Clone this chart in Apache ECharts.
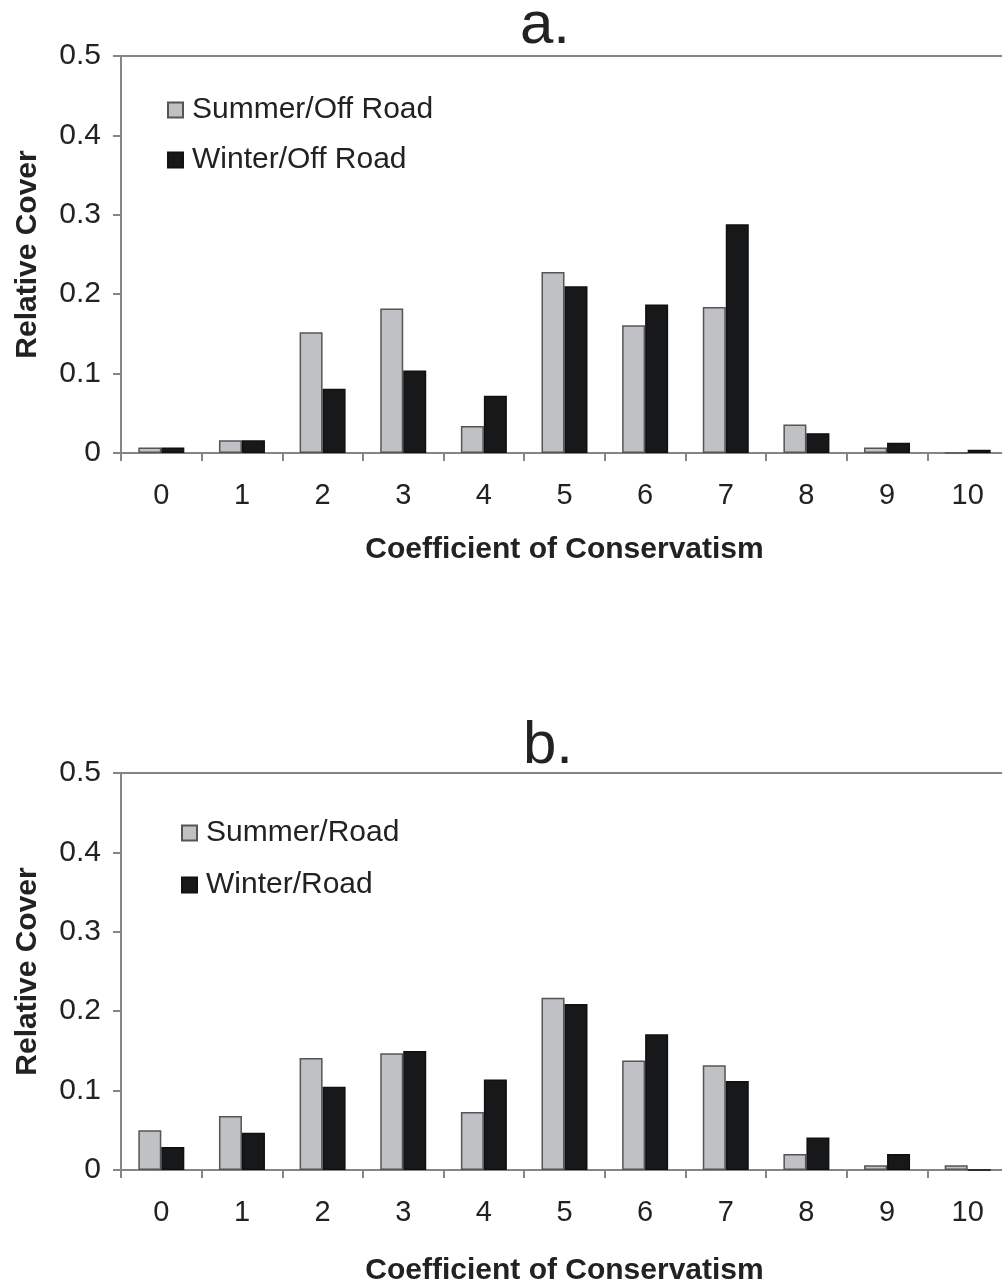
<!DOCTYPE html>
<html>
<head>
<meta charset="utf-8">
<script src="https://cdn.jsdelivr.net/npm/echarts@6/dist/echarts.min.js"></script>
<style>
html,body{margin:0;padding:0;background:#fff;overflow:hidden;width:1002px;height:1287px;}
#c{width:1010px;height:1287px;}
</style>
</head>
<body>
<div id="c"></div>
<script>
const categories = ['0','1','2','3','4','5','6','7','8','9','10'];
const summerOffRoad = [0.007, 0.016, 0.152, 0.182, 0.034, 0.228, 0.161, 0.184, 0.036, 0.007, 0];
const winterOffRoad = [0.007, 0.016, 0.081, 0.104, 0.072, 0.210, 0.187, 0.288, 0.025, 0.013, 0.004];
const summerRoad = [0.050, 0.068, 0.141, 0.147, 0.073, 0.217, 0.138, 0.132, 0.020, 0.006, 0.006];
const winterRoad = [0.029, 0.047, 0.105, 0.150, 0.114, 0.209, 0.171, 0.112, 0.041, 0.020, 0];
const yTicks = [0, 0.1, 0.2, 0.3, 0.4, 0.5];

const FONT = '"Liberation Sans", Arial, sans-serif';
const AX = '#858585';
const GREY = '#c0c1c4', BLACK = '#17181a';

const chart = echarts.init(document.getElementById('c'), null, {renderer:'canvas'});

function xAxisCfg(idx, gap){
  return {
    type:'category', gridIndex:idx, data:categories,
    axisLine:{show:true, lineStyle:{color:AX, width:2}},
    axisTick:{show:true, inside:false, length:8, alignWithLabel:false, lineStyle:{color:AX, width:2}},
    axisLabel:{fontFamily:FONT, fontSize:29, color:'#222', margin:28},
    name:'Coefficient of Conservatism', nameLocation:'middle', nameGap:gap,
    nameTextStyle:{fontFamily:FONT, fontSize:30, fontWeight:'bold', color:'#222'}
  };
}
function yAxisCfg(idx){
  return {
    type:'value', gridIndex:idx, min:0, max:0.5, interval:0.1,
    axisLine:{show:true, lineStyle:{color:AX, width:2}},
    axisTick:{show:true, inside:false, length:8, lineStyle:{color:AX, width:2}},
    axisLabel:{fontFamily:FONT, fontSize:30, color:'#222', margin:20,
      formatter:function(v){ const t = yTicks.find(x=>Math.abs(x-v)<1e-9); return t===undefined? '' : String(t); }},
    splitLine:{show:false},
    name:'Relative Cover', nameLocation:'middle', nameGap:78, nameRotate:90,
    nameTextStyle:{fontFamily:FONT, fontSize:30, fontWeight:'bold', color:'#222'}
  };
}
function barSeries(name, data, idx, color, border){
  return {
    type:'bar', name:name, data:data, xAxisIndex:idx, yAxisIndex:idx,
    barWidth:23, barGap:'0%',
    itemStyle:{color:color, borderColor:border, borderWidth:1.5},
    emphasis:{disabled:true}, animation:false
  };
}

chart.setOption({
  animation:false,
  grid:[
    {left:121, top:56, width:887, height:397, show:true, borderColor:AX, borderWidth:2, backgroundColor:'transparent'},
    {left:121, top:773, width:887, height:398, show:true, borderColor:AX, borderWidth:2, backgroundColor:'transparent'}
  ],
  xAxis:[xAxisCfg(0, 82), xAxisCfg(1, 86)],
  yAxis:[yAxisCfg(0), yAxisCfg(1)],
  legend:[
    {data:['Summer/Off Road','Winter/Off Road'], orient:'vertical', left:162, top:90,
     itemWidth:15, itemHeight:15, itemGap:20, icon:'rect',
     textStyle:{fontFamily:FONT, fontSize:30, color:'#222', lineHeight:30, padding:[0,0,0,4]}},
    {data:['Summer/Road','Winter/Road'], orient:'vertical', left:176, top:813,
     itemWidth:15, itemHeight:15, itemGap:22, icon:'rect',
     textStyle:{fontFamily:FONT, fontSize:30, color:'#222', lineHeight:30, padding:[0,0,0,4]}}
  ],
  graphic:[
    {type:'text', x:545, y:-4, style:{text:'a.', textAlign:'center', fontFamily:FONT, fontSize:60, fill:'#222'}},
    {type:'text', x:548, y:716, style:{text:'b.', textAlign:'center', fontFamily:FONT, fontSize:60, fill:'#222'}}
  ],
  series:[
    barSeries('Summer/Off Road', summerOffRoad, 0, GREY, '#555'),
    barSeries('Winter/Off Road', winterOffRoad, 0, BLACK, '#111'),
    barSeries('Summer/Road', summerRoad, 1, GREY, '#555'),
    barSeries('Winter/Road', winterRoad, 1, BLACK, '#111')
  ]
});
</script>
</body>
</html>
